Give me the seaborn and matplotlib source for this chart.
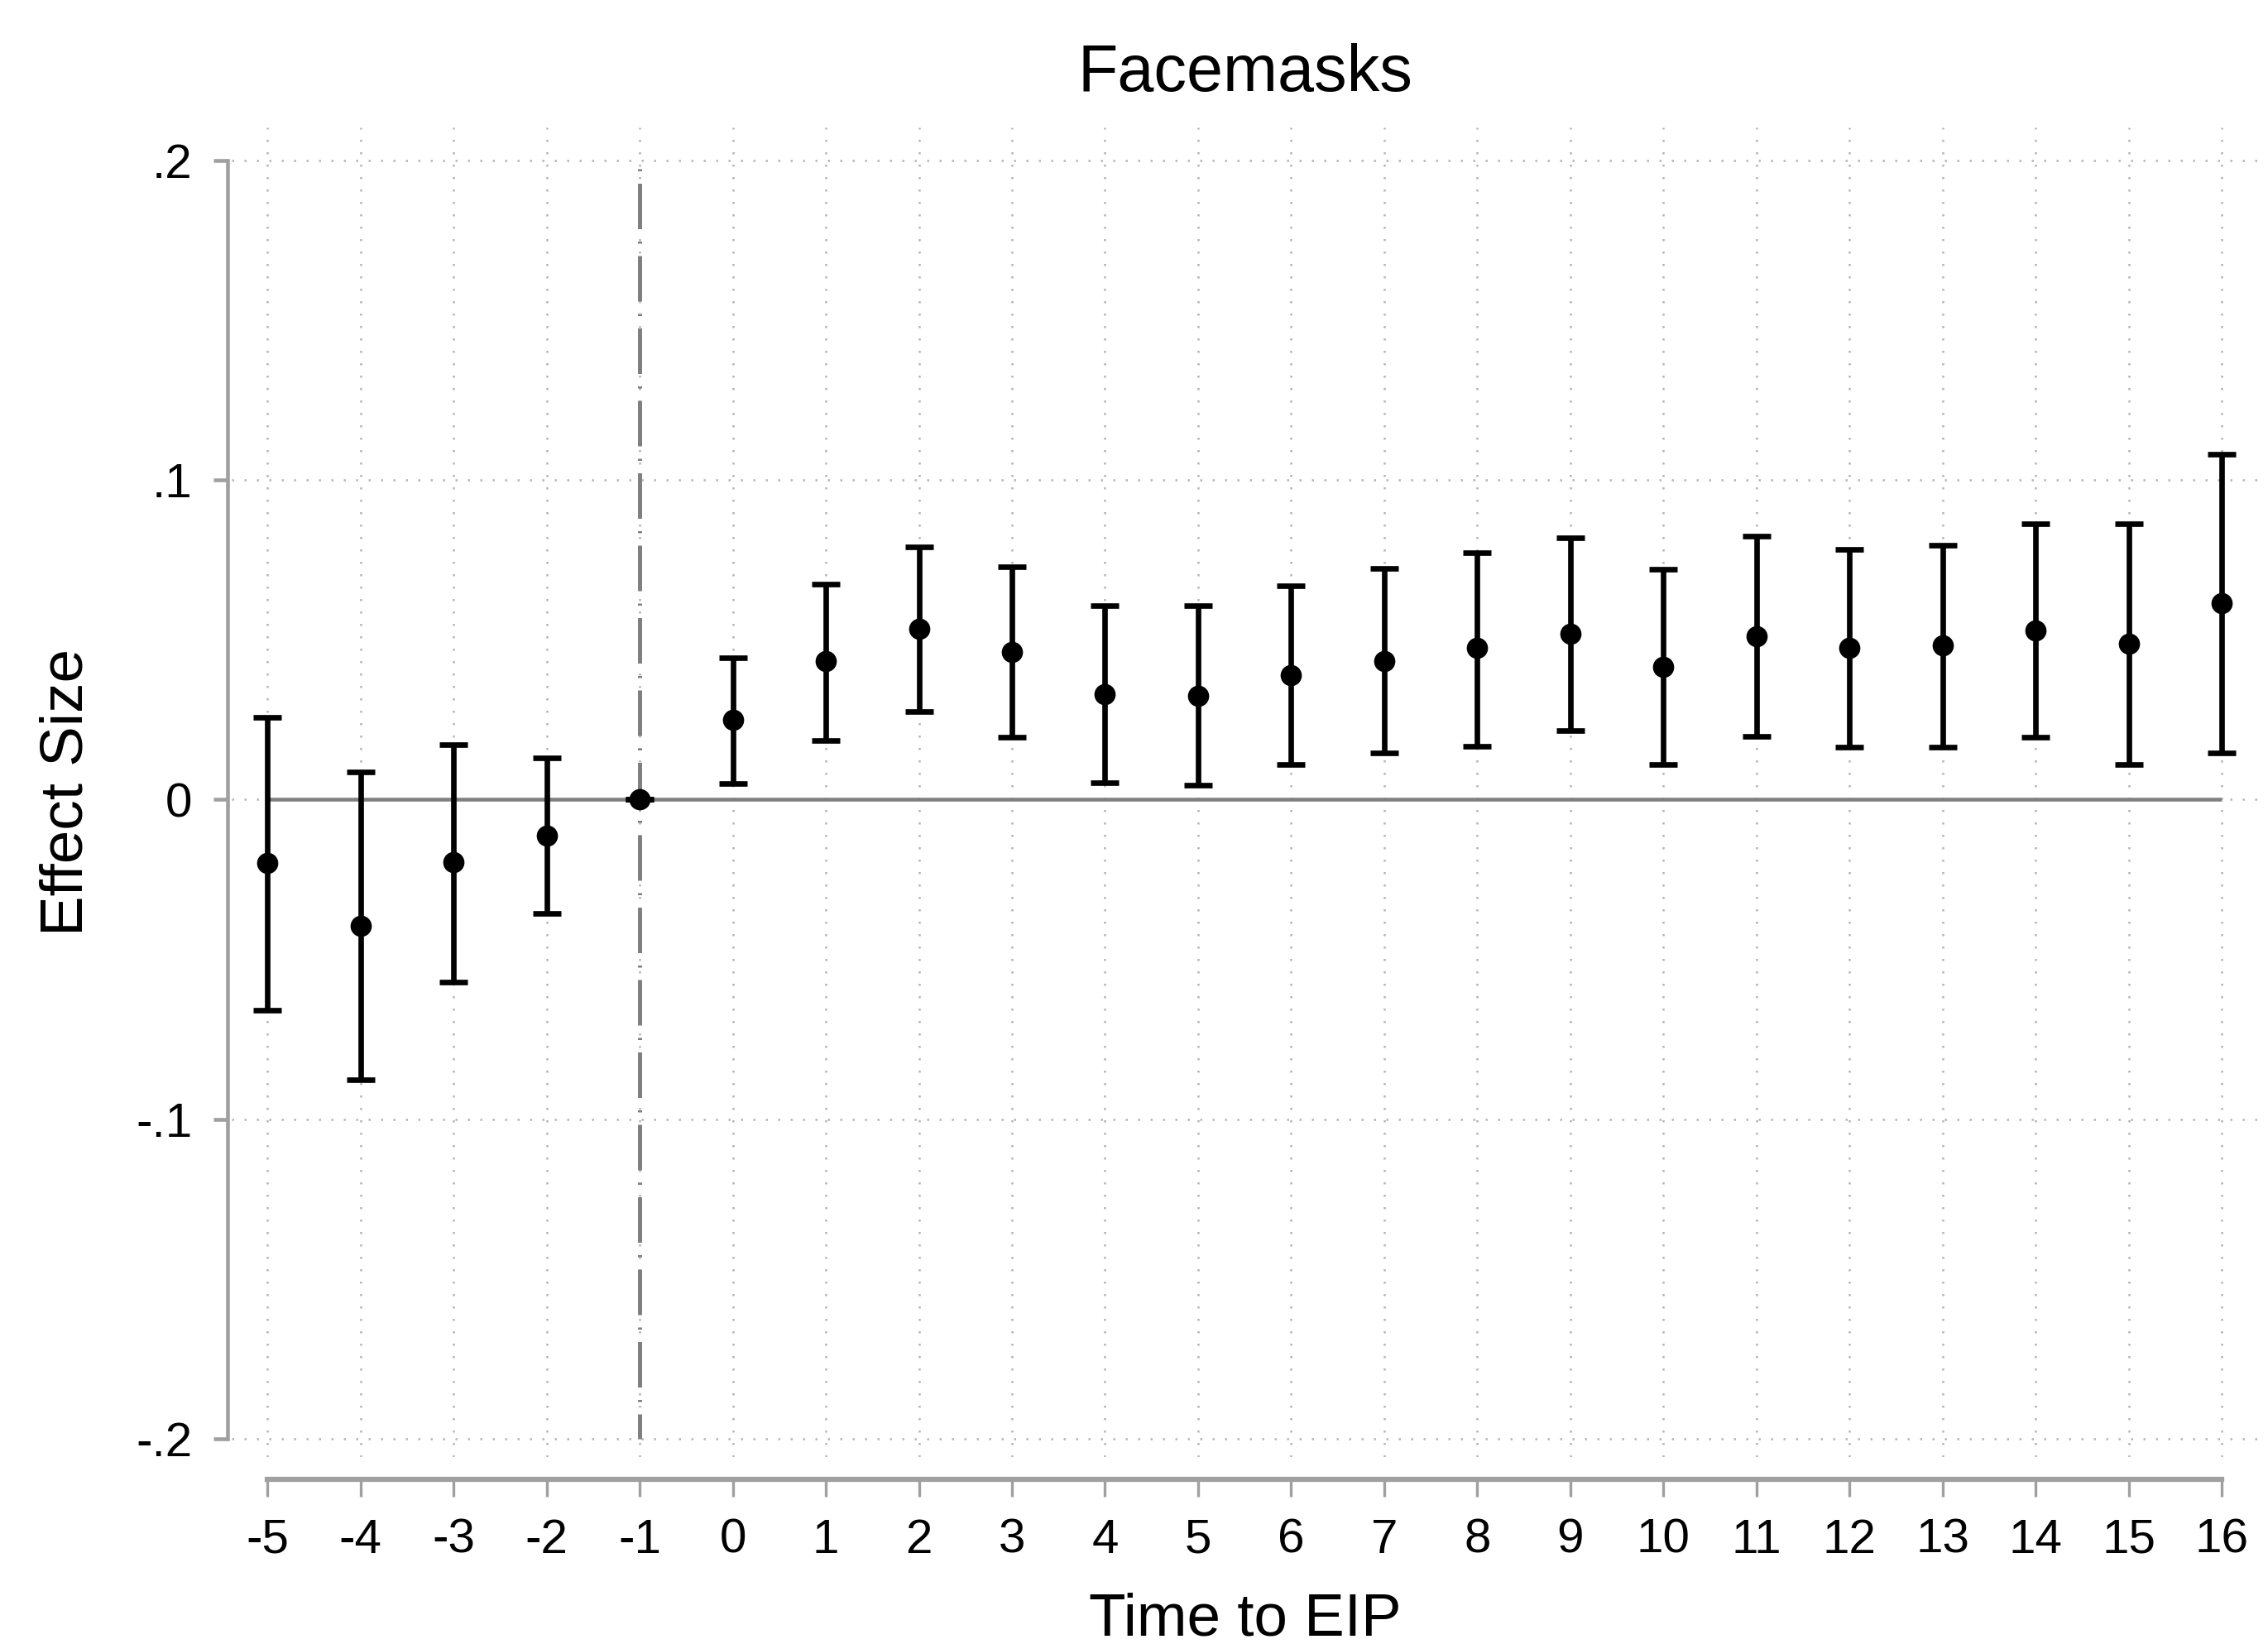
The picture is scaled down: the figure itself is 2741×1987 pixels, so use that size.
import matplotlib
matplotlib.use("Agg")
import matplotlib.pyplot as plt
import seaborn as sns
import pandas as pd

# Event-study coefficients
periods = [-5, -4, -3, -2, -1, 0, 1, 2, 3, 4, 5, 6, 7, 8, 9, 10, 11, 12, 13, 14, 15, 16]
effect = [-0.0199, -0.0394, -0.0195, -0.0113, 0.0, 0.0249, 0.0434, 0.0534, 0.0462, 0.0330,
          0.0326, 0.0389, 0.0434, 0.0475, 0.0520, 0.0416, 0.0511, 0.0475, 0.0484, 0.0529,
          0.0489, 0.0615]
ci_low = [-0.0660, -0.0878, -0.0570, -0.0357, 0.0, 0.0050, 0.0186, 0.0276, 0.0195, 0.0054,
          0.0045, 0.0109, 0.0145, 0.0167, 0.0217, 0.0109, 0.0199, 0.0163, 0.0163, 0.0195,
          0.0109, 0.0145]
ci_high = [0.0258, 0.0086, 0.0172, 0.0131, 0.0, 0.0443, 0.0674, 0.0792, 0.0729, 0.0606,
           0.0606, 0.0670, 0.0724, 0.0774, 0.0819, 0.0720, 0.0824, 0.0783, 0.0796, 0.0864,
           0.0864, 0.1081]
y_ticks = [-0.2, -0.1, 0.0, 0.1, 0.2]
y_ticklabels = ["-.2", "-.1", "0", ".1", ".2"]

df = pd.DataFrame({"period": periods, "effect": effect, "lo": ci_low, "hi": ci_high})

sns.set_style("white")
plt.rcParams["font.family"] = ["Liberation Sans", "DejaVu Sans"]
plt.rcParams["text.color"] = "black"
plt.rcParams["axes.labelcolor"] = "black"

fig = plt.figure(figsize=(2741 / 300, 1987 / 300), dpi=300)
ax = fig.add_axes([0.102, 0.1135, 0.894, 0.809])

grid_col = "#b4b4b4"
axis_col = "#a0a0a0"

# dotted grid at every tick
for y in y_ticks:
    ax.axhline(y, color=grid_col, lw=0.6, ls=(0, (1, 5)), zorder=0)
for x in periods:
    ax.axvline(x, color=grid_col, lw=0.6, ls=(0, (1, 5)), zorder=0)

# reference lines
ax.hlines(0, periods[0], periods[-1], color="#808080", lw=1.1, zorder=1)
ax.vlines(-1, -0.2, 0.2, color="#808080", lw=1.2, linestyles=[(5, (11, 3, 0.5, 3))], zorder=1)

# confidence intervals + point estimates
ax.errorbar(df["period"], df["effect"],
            yerr=[df["effect"] - df["lo"], df["hi"] - df["effect"]],
            fmt="none", ecolor="black", elinewidth=1.6, capsize=4, capthick=1.6, zorder=3)
sns.scatterplot(data=df, x="period", y="effect", color="black", s=38, edgecolor="black",
                linewidth=0, zorder=4, ax=ax)

ax.set_xlim(-5.389, 16.40)
ax.set_ylim(-0.2059, 0.2104)
ax.set_xticks(periods)
ax.set_xticklabels([str(p) for p in periods])
ax.set_yticks(y_ticks)
ax.set_yticklabels(y_ticklabels)

for side in ["top", "right"]:
    ax.spines[side].set_visible(False)
ax.spines["left"].set_position(("outward", 1.2))
ax.spines["bottom"].set_position(("outward", 6.3))
ax.spines["left"].set_bounds(-0.2, 0.2)
ax.spines["bottom"].set_bounds(-5, 16)
ax.spines["left"].set_color(axis_col)
ax.spines["bottom"].set_color(axis_col)
ax.spines["left"].set_linewidth(1.1)
ax.spines["bottom"].set_linewidth(1.5)

ax.tick_params(axis="y", length=4.2, width=1.1, color=axis_col, pad=5.9, labelsize=14,
               left=True, labelcolor="black")
ax.tick_params(axis="x", length=5, width=0.8, color=axis_col, pad=6.3, labelsize=14,
               bottom=True, labelcolor="black")

ax.set_title("Facemasks", fontsize=19, pad=10.5, color="black")
ax.set_xlabel("Time to EIP", fontsize=17.5, labelpad=8.5)
ax.set_ylabel("Effect Size", fontsize=17.5, labelpad=12)

fig.savefig("out.png", dpi=300)
